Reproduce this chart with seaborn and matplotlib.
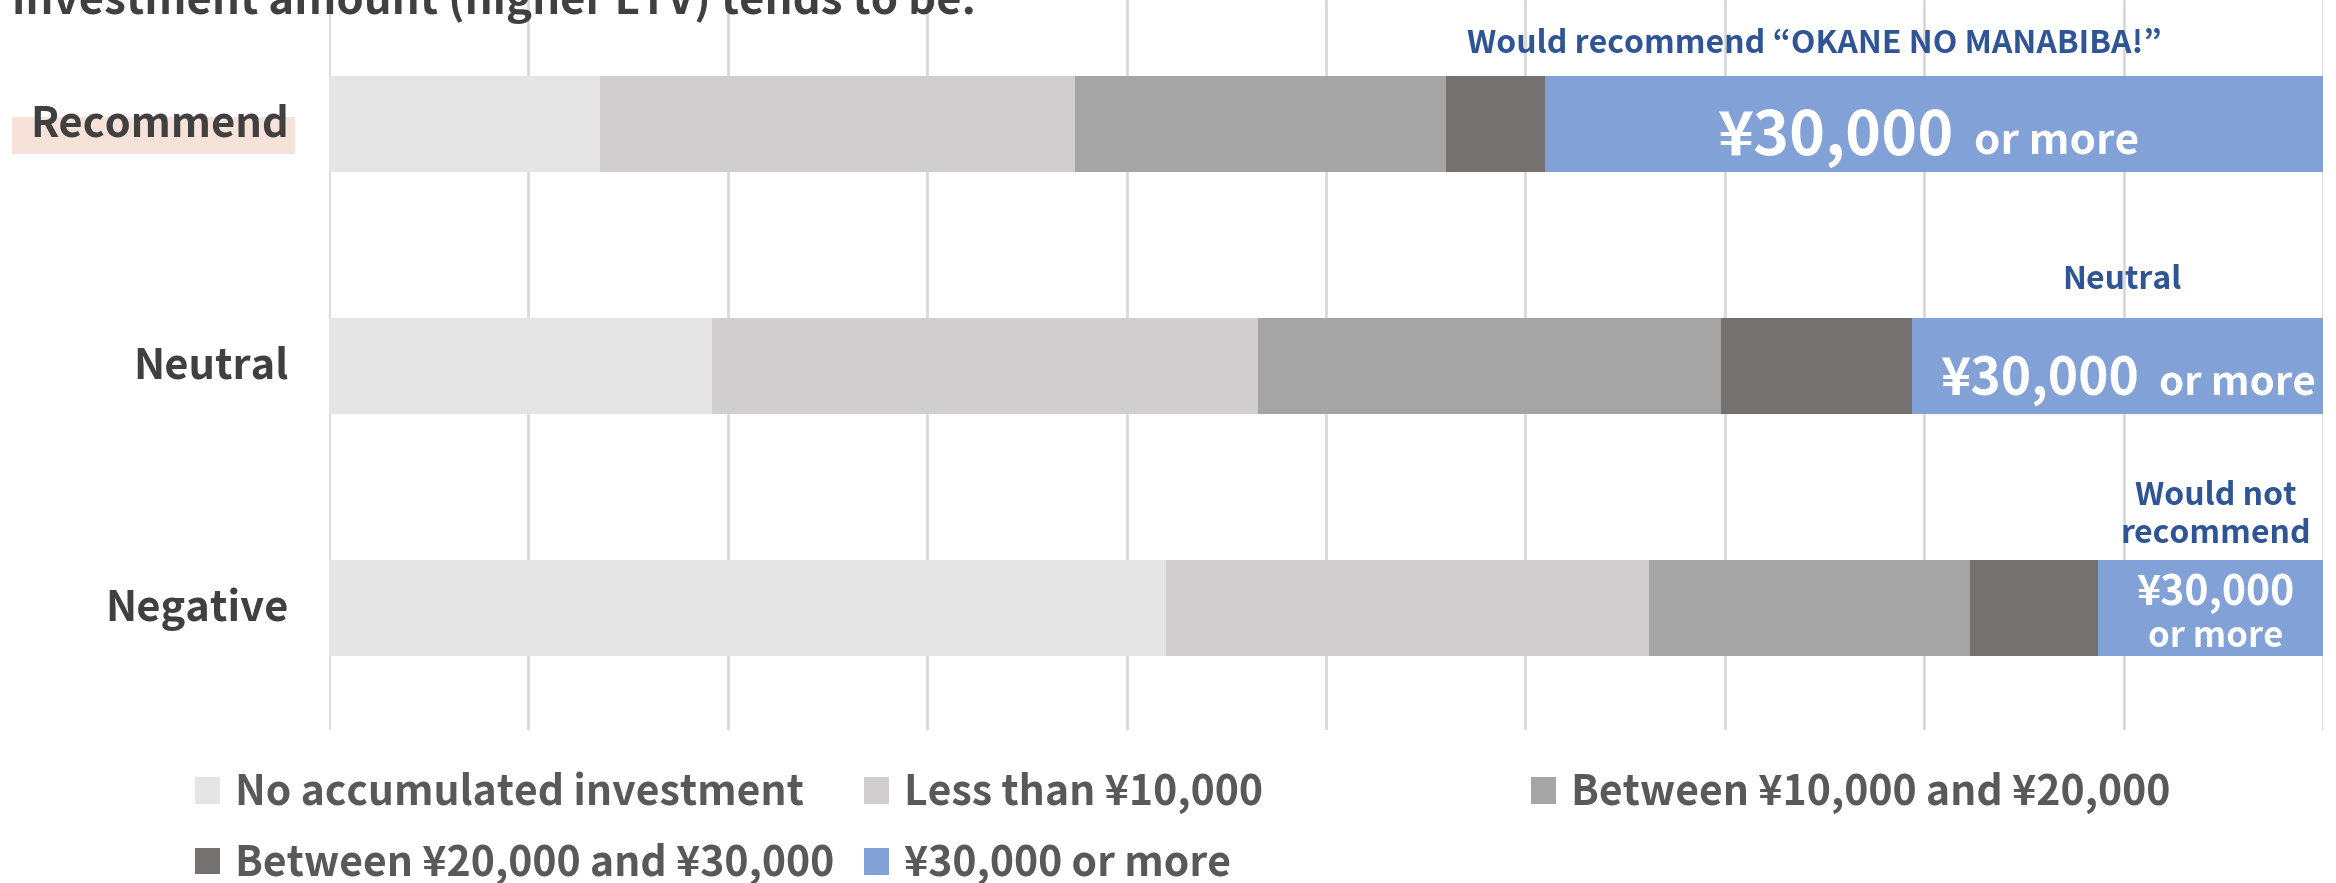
import numpy as np
import pandas as pd
import matplotlib
matplotlib.use("Agg")
import matplotlib.pyplot as plt
import matplotlib.transforms as mtransforms
from matplotlib.patches import Rectangle, Patch
import seaborn as sns

# ---------------- data ----------------
categories = ["Recommend", "Neutral", "Negative"]
series_names = ["No accumulated investment", "Less than ¥10,000",
                "Between ¥10,000 and ¥20,000", "Between ¥20,000 and ¥30,000",
                "¥30,000 or more"]
no_investment = [13.6, 19.2, 42.0]
less_10k = [23.8, 27.4, 24.2]
between_10k_20k = [18.6, 23.2, 16.1]
between_20k_30k = [5.0, 9.6, 6.4]
over_30k = [39.0, 20.6, 11.3]
colors = ["#e5e5e5", "#d0cece", "#a5a5a5", "#767171", "#82a1d7"]
title_text = "investment amount (higher LTV) tends to be."
group_labels = ["Would recommend \u201cOKANE NO MANABIBA!\u201d", "Neutral", "Would not", "recommend"]

# ---------------- style ----------------
sns.set_style("white")
plt.rcParams["font.family"] = ["Noto Sans CJK JP", "DejaVu Sans"]
plt.rcParams["font.weight"] = "bold"

W, H = 2336, 883
fig = plt.figure(figsize=(W / 100, H / 100), dpi=100)
ax = fig.add_axes([329 / W, 1 - 730 / H, (2323 - 329) / W, 730 / H])
ax.set_facecolor("none")

values = [no_investment, less_10k, between_10k_20k, between_20k_30k, over_30k]
cum = np.cumsum(np.array(values), axis=0)
# draw from the total backwards so earlier segments overlay later ones
for i in range(len(values) - 1, -1, -1):
    df = pd.DataFrame({"cat": categories, "val": cum[i]})
    sns.barplot(data=df, x="val", y="cat", orient="h", color=colors[i],
                saturation=1, width=0.4, linewidth=0, ax=ax, zorder=2)

ax.set_xlim(0, 100)
ax.set_ylim(2.504, -0.512)
ax.set_xticks(np.arange(0, 101, 10))
ax.set_xticklabels([])
ax.xaxis.grid(True, color="#d9d9d9", linewidth=2)
ax.yaxis.grid(False)
ax.set_axisbelow(True)
for s in ax.spines.values():
    s.set_visible(False)
ax.set_xlabel("")
ax.set_ylabel("")
ax.tick_params(axis="x", length=0)
ax.tick_params(axis="y", length=0, pad=29, labelsize=30, labelcolor="#404040")
shift = mtransforms.ScaledTranslation(0, 4 / 100, fig.dpi_scale_trans)
for t in ax.get_yticklabels():
    t.set_fontweight("bold")
    t.set_transform(t.get_transform() + shift)

# highlight behind "Recommend"
fig.patches.append(Rectangle((12 / W, 1 - 154 / H), (295 - 12) / W, 37 / H,
                             transform=fig.transFigure, facecolor="#f6e2d9",
                             edgecolor="none", zorder=-5))

# title (top line cropped)
fig.text(12 / W, 1 - 14 / H, title_text, fontsize=31.5, fontweight="bold",
         color="#404040", ha="left", va="baseline")

# ---------------- annotations ----------------
blue = "#2f5597"
ax.text(74.5, -0.33, group_labels[0], fontsize=23, fontweight="bold",
        color=blue, ha="center", va="center")
ax.text(81.5, 0.128, "¥30,000", fontsize=44, fontweight="bold", color="white",
        ha="right", va="baseline", zorder=5)
ax.text(82.5, 0.128, "or more", fontsize=30.5, fontweight="bold", color="white",
        ha="left", va="baseline", zorder=5)

ax.text(89.9, 0.645, group_labels[1], fontsize=23, fontweight="bold",
        color=blue, ha="center", va="center")
ax.text(90.8, 1.12, "¥30,000", fontsize=37, fontweight="bold", color="white",
        ha="right", va="baseline", zorder=5)
ax.text(91.8, 1.12, "or more", fontsize=29, fontweight="bold", color="white",
        ha="left", va="baseline", zorder=5)

ax.text(94.6, 1 + (505 - 366) / 242, group_labels[2], fontsize=23,
        fontweight="bold", color=blue, ha="center", va="baseline")
ax.text(94.6, 1 + (543 - 366) / 242, group_labels[3], fontsize=23,
        fontweight="bold", color=blue, ha="center", va="baseline")
ax.text(94.6, 1.988, "¥30,000", fontsize=29.5, fontweight="bold", color="white",
        ha="center", va="baseline", zorder=5)
ax.text(94.6, 2.161, "or more", fontsize=25, fontweight="bold", color="white",
        ha="center", va="baseline", zorder=5)

# ---------------- legend (three columns) ----------------
handles = [Patch(facecolor=c, edgecolor="none", label=n) for c, n in zip(colors, series_names)]
cols = [[0, 3], [1, 4], [2]]
col_x = [195, 864, 1531]
leg_kw = dict(frameon=False, fontsize=29.5, handlelength=0.61, handleheight=0.61,
              handletextpad=0.37, labelspacing=0.7, borderpad=0, borderaxespad=0,
              labelcolor="#595959", loc="upper left")
for idxs, x in zip(cols, col_x):
    leg = fig.legend([handles[i] for i in idxs], [series_names[i] for i in idxs],
                     bbox_to_anchor=(x / W, 1 - 772 / H), **leg_kw)
    for t in leg.get_texts():
        t.set_fontweight("bold")

fig.savefig("out.png", dpi=100)
